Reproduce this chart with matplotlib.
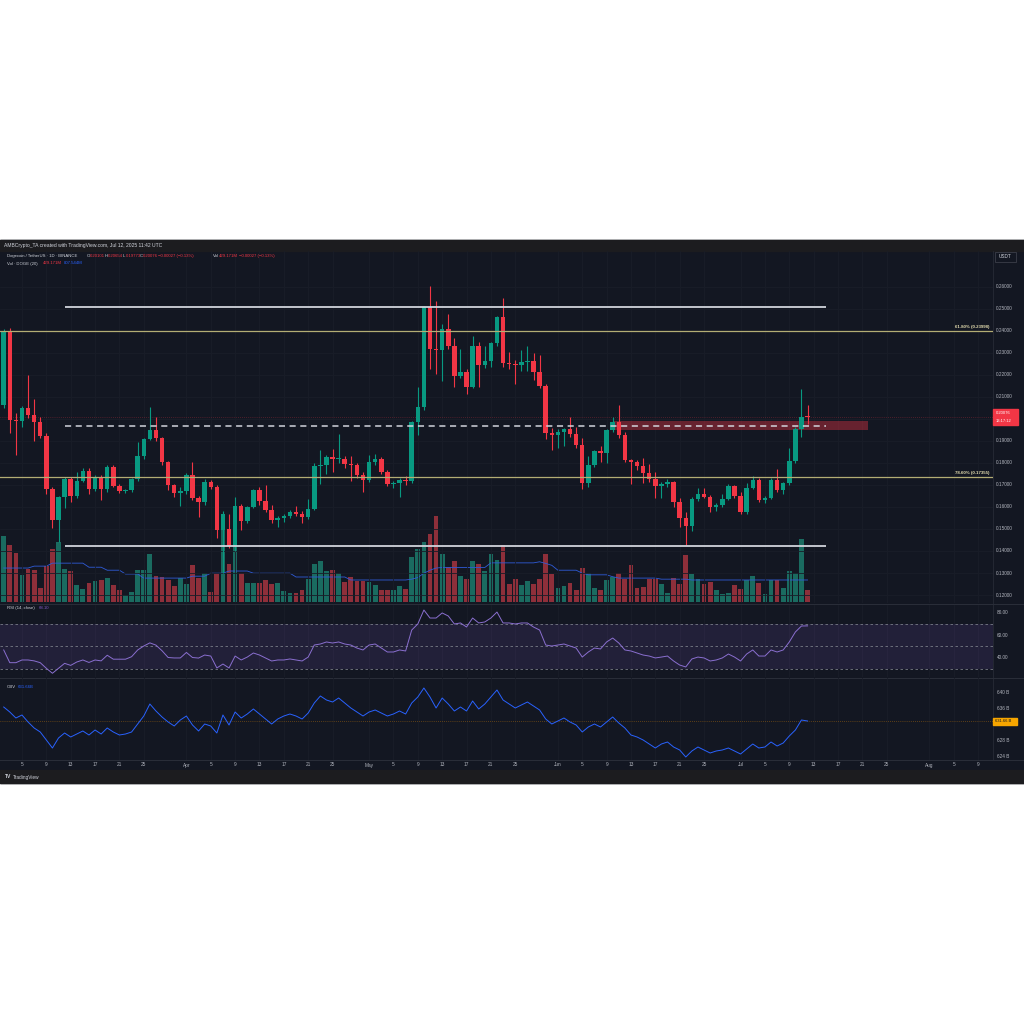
import numpy as np
import pandas as pd
import matplotlib
matplotlib.use('Agg')
import matplotlib.pyplot as plt
from matplotlib.patches import Rectangle

plt.rcParams['font.family'] = ['Liberation Sans', 'DejaVu Sans']

# DOGE/USDT daily, 2025-03-02 .. 2025-07-12
start = pd.Timestamp('2025-03-02')

opens = [0.2065, 0.2400, 0.1995, 0.1990, 0.2050, 0.2016, 0.1987, 0.1924, 0.1683, 0.1540,
         0.1645, 0.1725, 0.1652, 0.1720, 0.1762, 0.1683, 0.1737, 0.1680, 0.1781, 0.1695,
         0.1671, 0.1675, 0.1725, 0.1831, 0.1910, 0.1951, 0.1912, 0.1805, 0.1698, 0.1665,
         0.1672, 0.1744, 0.1640, 0.1622, 0.1713, 0.1693, 0.1494, 0.1502, 0.1422, 0.1603,
         0.1537, 0.1600, 0.1676, 0.1627, 0.1588, 0.1540, 0.1551, 0.1561, 0.1575, 0.1568,
         0.1553, 0.1593, 0.1788, 0.1792, 0.1827, 0.1817, 0.1820, 0.1797, 0.1790, 0.1744,
         0.1724, 0.1804, 0.1816, 0.1759, 0.1706, 0.1710, 0.1724, 0.1718, 0.1985, 0.2053,
         0.2509, 0.2318, 0.2313, 0.2408, 0.2333, 0.2197, 0.2212, 0.2147, 0.2333, 0.2247,
         0.2265, 0.2343, 0.2461, 0.2253, 0.2250, 0.2245, 0.2257, 0.2265, 0.2212, 0.2151,
         0.1937, 0.1925, 0.1940, 0.1953, 0.1930, 0.1883, 0.1709, 0.1789, 0.1854, 0.1845,
         0.1951, 0.1985, 0.1929, 0.1812, 0.1805, 0.1784, 0.1754, 0.1729, 0.1694, 0.1706,
         0.1713, 0.1623, 0.1548, 0.1513, 0.1638, 0.1661, 0.1646, 0.1600, 0.1611, 0.1638,
         0.1695, 0.1650, 0.1577, 0.1688, 0.1724, 0.1630, 0.1642, 0.1721, 0.1679, 0.1711,
         0.1809, 0.1955, 0.20101]
highs = [0.2410, 0.2415, 0.2025, 0.2058, 0.2200, 0.2089, 0.2010, 0.1935, 0.1690, 0.1652,
         0.1738, 0.1738, 0.1759, 0.1775, 0.1775, 0.1745, 0.1745, 0.1790, 0.1790, 0.1705,
         0.1680, 0.1730, 0.1895, 0.1915, 0.2056, 0.2010, 0.1920, 0.1810, 0.1705, 0.1690,
         0.1755, 0.1803, 0.1650, 0.1725, 0.1722, 0.1700, 0.1580, 0.1566, 0.1645, 0.1615,
         0.1605, 0.1683, 0.1690, 0.1698, 0.1610, 0.1560, 0.1568, 0.1585, 0.1605, 0.1580,
         0.1638, 0.1800, 0.1857, 0.1835, 0.1864, 0.1930, 0.1830, 0.1830, 0.1800, 0.1760,
         0.1838, 0.1840, 0.1825, 0.1770, 0.1720, 0.1730, 0.1740, 0.1990, 0.2147, 0.2515,
         0.2605, 0.2537, 0.2431, 0.2477, 0.2370, 0.2318, 0.2225, 0.2378, 0.2350, 0.2330,
         0.2350, 0.2470, 0.2549, 0.2305, 0.2270, 0.2315, 0.2330, 0.2300, 0.2290, 0.2160,
         0.1960, 0.1955, 0.1960, 0.2010, 0.1965, 0.1915, 0.1830, 0.1860, 0.1875, 0.1955,
         0.2010, 0.2065, 0.1940, 0.1820, 0.1812, 0.1822, 0.1795, 0.1760, 0.1715, 0.1725,
         0.1720, 0.1640, 0.1575, 0.1645, 0.1685, 0.1685, 0.1655, 0.1618, 0.1660, 0.1703,
         0.1700, 0.1668, 0.1710, 0.1742, 0.1730, 0.1648, 0.1730, 0.1774, 0.1715, 0.1866,
         0.1965, 0.2137, 0.20654]
lows = [0.2050, 0.1935, 0.1835, 0.1965, 0.2005, 0.1902, 0.1915, 0.1661, 0.1503, 0.1441,
        0.1595, 0.1622, 0.1640, 0.1712, 0.1661, 0.1672, 0.1630, 0.1670, 0.1690, 0.1665,
        0.1665, 0.1668, 0.1720, 0.1820, 0.1905, 0.1900, 0.1790, 0.1675, 0.1645, 0.1603,
        0.1660, 0.1630, 0.1556, 0.1610, 0.1680, 0.1457, 0.1300, 0.1415, 0.1400, 0.1494,
        0.1525, 0.1595, 0.1610, 0.1575, 0.1528, 0.1507, 0.1530, 0.1550, 0.1560, 0.1528,
        0.1545, 0.1585, 0.1703, 0.1750, 0.1760, 0.1800, 0.1775, 0.1720, 0.1730, 0.1669,
        0.1715, 0.1790, 0.1750, 0.1695, 0.1688, 0.1645, 0.1700, 0.1710, 0.1929, 0.2040,
        0.2227, 0.2204, 0.2174, 0.2320, 0.2144, 0.2185, 0.2114, 0.2140, 0.2144, 0.2230,
        0.2235, 0.2330, 0.2235, 0.2225, 0.2159, 0.2220, 0.2219, 0.2176, 0.2140, 0.1910,
        0.1857, 0.1870, 0.1878, 0.1920, 0.1870, 0.1683, 0.1690, 0.1780, 0.1804, 0.1800,
        0.1940, 0.1915, 0.1805, 0.1703, 0.1770, 0.1708, 0.1715, 0.1642, 0.1642, 0.1690,
        0.1598, 0.1510, 0.1426, 0.1490, 0.1625, 0.1640, 0.1577, 0.1580, 0.1600, 0.1630,
        0.1640, 0.1570, 0.1570, 0.1680, 0.1622, 0.1620, 0.1635, 0.1670, 0.1660, 0.1700,
        0.1800, 0.1917, 0.19773]
closes = [0.2400, 0.1995, 0.1990, 0.2050, 0.2016, 0.1987, 0.1924, 0.1683, 0.1540, 0.1645,
          0.1725, 0.1652, 0.1720, 0.1762, 0.1683, 0.1737, 0.1680, 0.1781, 0.1695, 0.1671,
          0.1675, 0.1725, 0.1831, 0.1910, 0.1951, 0.1912, 0.1805, 0.1698, 0.1665, 0.1672,
          0.1744, 0.1640, 0.1622, 0.1713, 0.1693, 0.1494, 0.1566, 0.1422, 0.1603, 0.1537,
          0.1600, 0.1676, 0.1627, 0.1588, 0.1540, 0.1551, 0.1561, 0.1575, 0.1568, 0.1553,
          0.1593, 0.1788, 0.1792, 0.1827, 0.1817, 0.1820, 0.1797, 0.1790, 0.1744, 0.1724,
          0.1804, 0.1816, 0.1759, 0.1706, 0.1710, 0.1724, 0.1718, 0.1985, 0.2053, 0.2509,
          0.2318, 0.2313, 0.2408, 0.2333, 0.2197, 0.2212, 0.2147, 0.2333, 0.2247, 0.2265,
          0.2343, 0.2461, 0.2253, 0.2250, 0.2245, 0.2257, 0.2265, 0.2212, 0.2151, 0.1937,
          0.1925, 0.1940, 0.1953, 0.1930, 0.1883, 0.1709, 0.1789, 0.1854, 0.1845, 0.1951,
          0.1985, 0.1929, 0.1812, 0.1805, 0.1784, 0.1754, 0.1729, 0.1694, 0.1706, 0.1713,
          0.1623, 0.1548, 0.1513, 0.1638, 0.1661, 0.1646, 0.1600, 0.1611, 0.1638, 0.1695,
          0.1650, 0.1577, 0.1688, 0.1724, 0.1630, 0.1642, 0.1721, 0.1679, 0.1711, 0.1809,
          0.1955, 0.2010, 0.20076]

# volume in millions as drawn
volume_m = [2420, 2090, 1800, 990, 1210, 1170, 510, 1320, 1950, 2200,
            1210, 1140, 620, 480, 700, 770, 810, 880, 620, 440,
            260, 370, 1170, 1170, 1760, 950, 920, 810, 590, 880,
            660, 1360, 880, 1060, 370, 1060, 2680, 1390, 2130, 1060,
            700, 700, 700, 810, 660, 700, 400, 330, 330, 440,
            840, 1390, 1500, 1140, 1170, 1060, 730, 920, 770, 770,
            730, 620, 440, 440, 440, 590, 480, 1650, 1950, 2200,
            2500, 3160, 1760, 1280, 1500, 950, 840, 1500, 1390, 1140,
            1760, 1540, 2090, 660, 840, 620, 770, 660, 840, 1760,
            1030, 510, 590, 700, 440, 1250, 1060, 510, 440, 810,
            920, 1060, 840, 1360, 510, 550, 840, 840, 660, 330,
            880, 660, 1720, 1030, 840, 660, 730, 440, 290, 330,
            620, 480, 810, 950, 700, 290, 810, 810, 510, 1140,
            1060, 2310, 429]
vol_ma_m = [1250] * 5 + [1320] * 3 + [1430] * 6 + [1280] * 3 + [1170] * 3 + [1030] * 3 + \
           [880] * 8 + [950] * 3 + [1060] * 3 + [1140] * 4 + [1060] * 7 + [920] * 9 + \
           [810] * 10 + [840, 900, 1060, 1170, 1250] + [1270] * 8 + [1440] * 8 + \
           [1480, 1420, 1350] + [1170] * 4 + [1060] + [1000] * 4 + [930] + [880] * 7 + \
           [840] * 5 + [810] * 20

rsi = [46.7, 35.4, 35.4, 37.8, 37.8, 37.0, 35.4, 30.4, 26.0, 30.4,
       34.8, 33.0, 36.0, 37.8, 35.6, 37.8, 37.0, 42.0, 38.5, 38.5,
       38.5, 40.7, 46.7, 50.2, 53.0, 51.0, 46.0, 40.0, 39.6, 39.6,
       44.5, 40.0, 39.5, 42.2, 41.3, 30.7, 34.2, 30.7, 41.3, 37.8,
       40.4, 44.0, 42.2, 39.6, 36.9, 37.8, 37.8, 38.7, 37.8, 36.9,
       40.4, 51.1, 52.0, 53.8, 52.9, 53.8, 52.0, 51.1, 48.4, 46.7,
       51.1, 52.0, 48.4, 44.9, 44.9, 46.7, 45.8, 64.4, 69.8, 82.2,
       75.1, 75.1, 79.6, 76.9, 69.8, 70.7, 67.1, 75.1, 70.7, 71.6,
       75.1, 80.4, 70.7, 70.7, 69.8, 70.7, 70.7, 67.1, 64.4, 51.1,
       50.2, 51.1, 52.0, 50.2, 48.4, 40.4, 44.9, 48.4, 47.6, 53.8,
       57.3, 52.9, 46.7, 45.8, 44.0, 42.2, 41.3, 39.6, 40.4, 41.3,
       36.9, 33.3, 31.6, 38.7, 40.4, 39.6, 36.9, 37.8, 39.6, 43.1,
       40.4, 36.9, 43.1, 46.7, 41.3, 41.3, 46.7, 44.9, 46.7, 53.8,
       62.7, 68.0, 68.1]

obv_b = [636.25, 635.0, 633.5, 634.25, 632.5, 631.0, 630.0, 628.0, 626.0, 628.5,
         629.75, 628.75, 629.5, 630.25, 629.25, 630.5, 629.5, 631.0, 630.0, 629.25,
         629.5, 630.0, 632.0, 634.0, 637.0, 635.25, 633.75, 632.5, 631.5, 633.0,
         634.0, 631.75, 630.25, 632.0, 631.5, 629.75, 634.25, 631.75, 635.0, 633.5,
         634.5, 635.75, 634.5, 633.25, 632.0, 633.25, 634.0, 634.5, 634.0, 633.25,
         634.75, 637.25, 639.0, 638.0, 637.5, 638.5, 637.25, 636.0, 635.0, 634.0,
         635.0, 635.5, 634.75, 634.0, 634.5, 635.25, 634.5, 637.25, 638.75, 641.0,
         638.75, 636.0, 638.5, 637.0, 635.25, 636.25, 635.25, 637.75, 635.75, 637.0,
         638.75, 640.5, 638.0, 637.0, 636.0, 636.75, 637.5, 636.5, 635.5, 633.25,
         632.0, 632.75, 633.5, 632.5, 631.75, 630.0, 631.25, 632.0, 631.25, 632.5,
         633.75, 632.25, 631.0, 629.25, 628.75, 628.0, 627.0, 626.0, 627.0, 627.5,
         626.25, 625.5, 623.75, 625.25, 626.25, 625.5, 624.75, 625.25, 625.5, 626.0,
         625.25, 624.5, 625.75, 627.0, 626.0, 626.25, 627.5, 626.5, 627.25, 629.0,
         630.5, 633.0, 632.75]

# 0.20 is hidden behind the last-price tag, as on the reference
price_ticks = [0.12, 0.13, 0.14, 0.15, 0.16, 0.17, 0.18, 0.19, 0.21, 0.22, 0.23, 0.24, 0.25, 0.26]
grid_prices = [0.12, 0.13, 0.14, 0.15, 0.16, 0.17, 0.18, 0.19, 0.20, 0.21, 0.22, 0.23, 0.24, 0.25, 0.26]
rsi_ticks = [40, 60, 80]
obv_ticks = [624, 628, 632, 636, 640]
date_ticks = ['2025-03-05', '2025-03-09', '2025-03-13', '2025-03-17', '2025-03-21', '2025-03-25',
              '2025-04-01', '2025-04-05', '2025-04-09', '2025-04-13', '2025-04-17', '2025-04-21', '2025-04-25',
              '2025-05-01', '2025-05-05', '2025-05-09', '2025-05-13', '2025-05-17', '2025-05-21', '2025-05-25',
              '2025-06-01', '2025-06-05', '2025-06-09', '2025-06-13', '2025-06-17', '2025-06-21', '2025-06-25',
              '2025-07-01', '2025-07-05', '2025-07-09', '2025-07-13', '2025-07-17', '2025-07-21', '2025-07-25',
              '2025-08-01', '2025-08-05', '2025-08-09']
date_labels = ['5', '9', '13', '17', '21', '25', 'Apr', '5', '9', '13', '17', '21', '25',
               'May', '5', '9', '13', '17', '21', '25', 'Jun', '5', '9', '13', '17', '21', '25',
               'Jul', '5', '9', '13', '17', '21', '25', 'Aug', '5', '9']

fib_levels = [('61.80%', 0.23998), ('78.60%', 0.17355)]
range_high = 0.2509
range_low = 0.1422
range_mid = 0.1966
zone_low, zone_high = 0.1948, 0.1989
lines_from, lines_to = '2025-03-12', '2025-07-15'
zone_from, zone_to = '2025-06-10', '2025-07-22'

BG = '#131722'
UP = '#089981'
DOWN = '#f23645'
TXT = '#b2b5be'
FIB = '#b3ad74'
FS = 3.4


def day(d):
    return (pd.Timestamp(d) - start).days


def fy(y):
    return 1 - y / 1024


def ftext(x, y, s, **kw):
    kw.setdefault('fontsize', FS)
    kw.setdefault('color', TXT)
    kw.setdefault('va', 'center')
    fig.text(x / 1024, fy(y), s, **kw)


x = np.arange(len(closes))
o = np.array(opens)
h = np.array(highs)
l = np.array(lows)
c = np.array(closes)
up = c >= o
col = np.where(up, UP, DOWN)

fig = plt.figure(figsize=(10.24, 10.24), dpi=100, facecolor='white')
fig.patches.append(Rectangle((0, fy(783)), 1, 543 / 1024, transform=fig.transFigure,
                             color=BG, zorder=-10))
fig.patches.append(Rectangle((0, fy(251)), 1, 11 / 1024, transform=fig.transFigure,
                             color='#1c1c1f', zorder=-9))
fig.patches.append(Rectangle((0, fy(783)), 1, 13 / 1024, transform=fig.transFigure,
                             color='#1c1c1f', zorder=-9))

W = 993 / 1024
xlim = (-0.608, 162.45)


def make_ax(top, bottom, z=1):
    a = fig.add_axes([0, fy(bottom), W, (bottom - top) / 1024])
    a.set_xlim(*xlim)
    a.set_facecolor('none')
    a.set_zorder(z)
    for s in a.spines.values():
        s.set_visible(False)
    a.set_xticks([])
    a.set_yticks([])
    return a


ax_v = make_ax(251, 603, 1)
ax_p = make_ax(251, 603, 2)
ax_r = make_ax(605, 677, 2)
ax_o = make_ax(678, 760, 2)

# faint grid
for d in date_ticks:
    for a in (ax_p, ax_r, ax_o):
        a.axvline(day(d), color='#191d28', lw=0.6, zorder=0)
for p in grid_prices:
    ax_p.axhline(p, color='#191d28', lw=0.6, zorder=0)

# volume
ax_v.set_ylim(-37, 12918)
vcol = np.where(up, '#1a6b60', '#8e2f3a')
ax_v.bar(x, volume_m, width=0.78, color=vcol, zorder=1)
ax_v.plot(x, vol_ma_m, color='#2f5bd8', lw=0.6, zorder=2)

# candles
ax_p.set_ylim(0.11637, 0.27631)
ax_p.vlines(x, l, h, color=col, lw=0.8, zorder=3)
body_lo = np.minimum(o, c)
body_h = np.maximum(np.abs(c - o), 0.0004)
ax_p.bar(x, body_h, bottom=body_lo, width=0.74, color=col, zorder=4)

x0, x1 = day(lines_from), day(lines_to)
ax_p.hlines([range_high, range_low], x0, x1, color='#d1d4dc', lw=1.3, zorder=5)
ax_p.hlines(range_mid, x0, x1, color='#d1d4dc', lw=1.1, linestyles=(0, (4, 3)), zorder=5)
ax_p.add_patch(Rectangle((day(zone_from), zone_low), day(zone_to) - day(zone_from),
                         zone_high - zone_low, color='#f23645', alpha=0.38, lw=0, zorder=2))
for name, lvl in fib_levels:
    ax_p.axhline(lvl, color=FIB, lw=0.9, xmax=0.9995, zorder=5)
    ax_p.text(xlim[1] - 0.5, lvl + 0.0009, '%s (%.5f)' % (name, lvl), color='#e3dcae',
              fontsize=3.2, ha='right', va='bottom', fontweight='bold', zorder=6)
ax_p.axhline(closes[-1], color=DOWN, lw=0.5, ls=(0, (1, 2)), alpha=0.5, zorder=2)

# RSI
ax_r.set_ylim(22.67, 86.67)
ax_r.axhspan(30, 70, color='#7e57c2', alpha=0.15, lw=0, zorder=0)
for lv in (70, 50, 30):
    ax_r.axhline(lv, color='#787b86', lw=0.6, ls=(0, (3, 3)), zorder=1)
ax_r.plot(x, rsi, color='#8a6fd0', lw=0.7, zorder=3)

# OBV
ax_o.set_ylim(623.0, 643.5)
ax_o.plot(x, obv_b, color='#2962ff', lw=0.7, zorder=3)
ax_o.axhline(obv_b[-1], color='#ff9800', lw=0.5, ls=(0, (1, 2)), alpha=0.6, zorder=1)

# pane separators
for yy in (604, 677.5, 760):
    fig.add_artist(plt.Line2D([0, 1], [fy(yy), fy(yy)], color='#2a2e39', lw=0.7))
fig.add_artist(plt.Line2D([W, W], [fy(760), fy(251)], color='#2a2e39', lw=0.5))

# right scales
for p in price_ticks:
    yy = ax_p.transData.transform((0, p))[1]
    fig.text(996 / 1024, yy / 1024, '%.5f' % p, fontsize=FS, color=TXT, va='center')
for r in rsi_ticks:
    yy = ax_r.transData.transform((0, r))[1]
    fig.text(997 / 1024, yy / 1024, '%.2f' % r, fontsize=FS, color=TXT, va='center')
for v in obv_ticks:
    yy = ax_o.transData.transform((0, v))[1]
    fig.text(997 / 1024, yy / 1024, '%d B' % v, fontsize=FS, color=TXT, va='center')

# current price tag
fig.patches.append(Rectangle((993 / 1024, fy(425)), 25 / 1024, 16 / 1024,
                             transform=fig.transFigure, color=DOWN, zorder=5))
ftext(996, 413.3, '%.5f' % closes[-1], color='white', fontsize=3.0, zorder=6)
ftext(996, 421, '13:17:12', color='white', fontsize=3.0, zorder=6)
yy = ax_o.transData.transform((0, obv_b[-1]))[1]
fig.patches.append(Rectangle((993 / 1024, yy / 1024 - 3.5 / 1024), 24 / 1024, 7 / 1024,
                             transform=fig.transFigure, color='#f7a600', zorder=5))
fig.text(995 / 1024, yy / 1024, '631.66 B', fontsize=3.0, color='#131722', va='center', zorder=6)
fig.patches.append(Rectangle((995 / 1024, fy(262)), 21 / 1024, 10 / 1024,
                             transform=fig.transFigure, facecolor='#131722',
                             edgecolor='#434651', lw=0.5, zorder=5))
ftext(998.5, 257, 'USDT', color='#d1d4dc', zorder=6)

# date labels
for d, lab in zip(date_ticks, date_labels):
    xx = ax_o.transData.transform((day(d), 0))[0]
    fig.text(xx / 1024, fy(765), lab, fontsize=FS, color=TXT, ha='center', va='center')

# header texts
ftext(4, 245, 'AMBCrypto_TA created with TradingView.com, Jul 12, 2025 11:42 UTC', color='#d1d4dc',
      fontsize=3.6)
ftext(7, 256, 'Dogecoin / TetherUS · 1D · BINANCE', color='#d1d4dc', fontsize=3.1)
hdr = [(87, 'O', '0.20101'), (105, 'H', '0.20654'), (123, 'L', '0.19773'), (140, 'C', '0.20076')]
for xx, k, v in hdr:
    ftext(xx, 256, k, color='#d1d4dc', fontsize=3.1)
    ftext(xx + 3, 256, v, color=DOWN, fontsize=3.1)
ftext(158, 256, '\u22120.00027 (\u22120.13%)', color=DOWN, fontsize=3.1)
ftext(213, 256, 'Vol', color='#d1d4dc', fontsize=3.1)
ftext(219, 256, '429.171M', color=DOWN, fontsize=3.1)
ftext(239, 256, '\u22120.00027 (\u22120.13%)', color=DOWN, fontsize=3.1)
ftext(7, 263.5, 'Vol · DOGE (20)', color='#d1d4dc', fontsize=3.1)
ftext(43, 263.5, '429.171M', color=DOWN, fontsize=3.1)
ftext(64, 263.5, '807.544M', color='#2962ff', fontsize=3.1)
ftext(7, 608, 'RSI (14, close)', color='#d1d4dc', fontsize=3.1)
ftext(39, 608, '68.10', color='#7e57c2', fontsize=3.1)
ftext(7, 686.5, 'OBV', color='#d1d4dc', fontsize=3.1)
ftext(18, 686.5, '631.66B', color='#2962ff', fontsize=3.1)
ftext(5, 777, 'TV', color='#d1d4dc', fontsize=3.6, fontweight='bold')
ftext(13, 777, 'TradingView', color='#d1d4dc', fontsize=3.4)

fig.savefig('out.png', dpi=100, facecolor='white')
